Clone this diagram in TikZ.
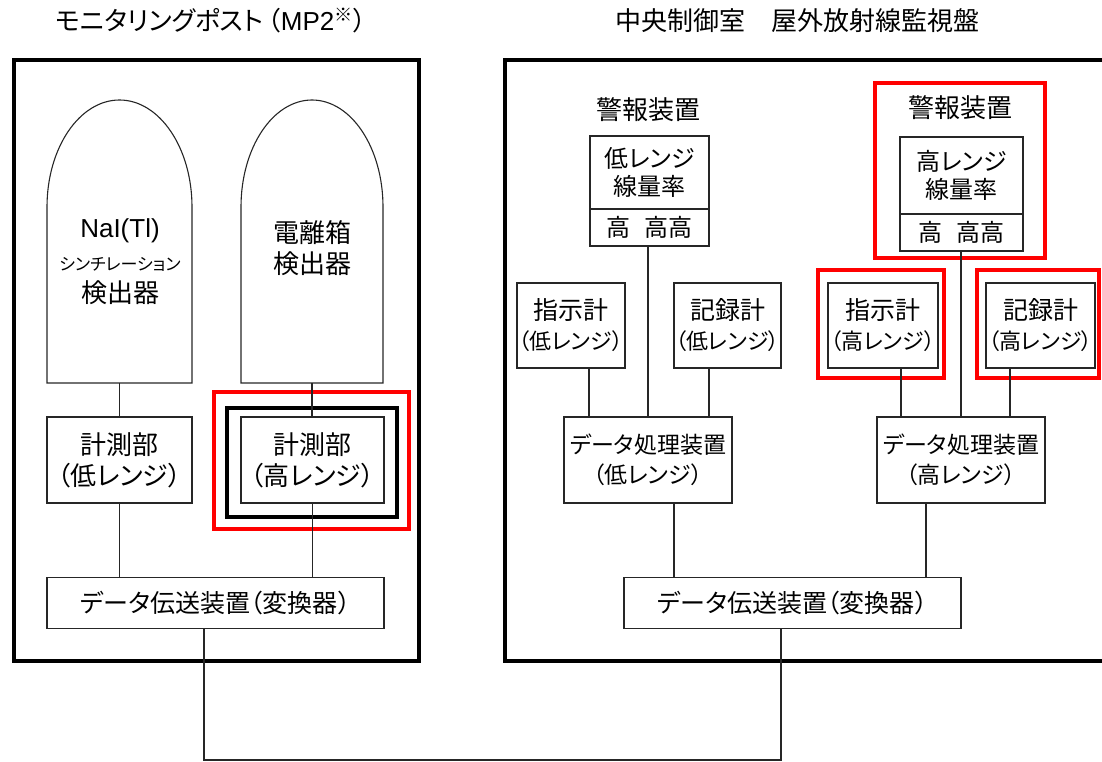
\documentclass[tikz,border=0pt]{standalone}
\usepackage{fontspec}
\setmainfont{Liberation Sans}
\newfontfamily\jp[RawFeature=+palt]{Noto Sans CJK JP}
\newcommand\JPbig{\jp\fontsize{26}{31}\selectfont}
\newcommand\JPbox{\jp\fontsize{25}{30}\selectfont}
\newcommand\JPmid{\jp\fontsize{24}{28}\selectfont}
\newcommand\JPdp{\jp\fontsize{23}{30}\selectfont}
\newcommand\JPsub{\fontsize{22}{29}\selectfont}
\newcommand\JPsmall{\jp\fontsize{17}{20}\selectfont}
\begin{document}
\begin{tikzpicture}[x=1pt,y=-1pt,
  ln/.style={line width=1.1pt,draw=black!85},
  outer/.style={line width=4pt},
  redbox/.style={line width=4pt,draw=red},
  bx/.style={draw=black!85,line width=1.1pt,inner sep=0pt,align=center,font=\JPbox},
  lbl/.style={inner sep=0pt,align=center,font=\JPbig}]
\useasboundingbox (0,0) rectangle (1102,762);
\clip (0,0) rectangle (1102,762);

% titles
\node[lbl] (t1) at (211,21) {モニタリングポスト\,（{\rmfamily MP2}\textsuperscript{※}）};
\node[lbl] (t2) at (797,21) {中央制御室　屋外放射線監視盤};

% outer frames
\draw[outer] (14,60) rectangle (419,661);
\draw[outer] (505,60) rectangle (1120,661);

% ---------- left: monitoring post ----------
\draw[ln] (47,383) -- (47,207) arc[start angle=180,end angle=360,x radius=72.5,y radius=107] -- (192,383) -- cycle;
\draw[ln] (241,383) -- (241,207) arc[start angle=180,end angle=360,x radius=71,y radius=107] -- (383,383) -- cycle;
\node[inner sep=0pt,minimum width=145pt,minimum height=283pt] (det1) at (119.5,241.5) {};
\node[inner sep=0pt,minimum width=142pt,minimum height=283pt] (det2) at (312,241.5) {};
\node[inner sep=0pt,font=\fontsize{26}{30}\selectfont] (det1a) at (120,231) {NaI(Tl)};
\node[inner sep=0pt,font=\JPsmall] (det1b) at (120,264) {シンチレーション};
\node[lbl] (det1c) at (120,293) {検出器};
\node[lbl] (det2a) at (312,248) {電離箱\\検出器};

\node[bx,font=\JPbig,minimum width=145pt,minimum height=86pt] (km1) at (119.5,460) {計測部\\（低レンジ）};
\node[bx,font=\JPbig,minimum width=143pt,minimum height=86pt] (km2) at (312.5,460) {計測部\\（高レンジ）};
\draw[line width=4.5pt] (227,408) rectangle (397,517);
\draw[redbox] (214,392) rectangle (409,529);

\node[bx,minimum width=337pt,minimum height=51pt] (dt1) at (215.5,603) {データ伝送装置（変換器）};

\draw[ln] (det1.south) -- (km1.north);
\draw[ln] (det2.south) -- (det2.south |- km2.north);
\draw[ln] (km1.south) -- (km1.south |- dt1.north);
\draw[ln] (km2.south) -- (km2.south |- dt1.north);

% ---------- right: control room ----------
\node[lbl] (alLt) at (648,110) {警報装置};
\node[bx,minimum width=119pt,minimum height=73pt,font=\JPmid] (alL) at (649.5,172.5) {低レンジ\\線量率};
\node[bx,minimum width=119pt,minimum height=37pt,font=\JPmid] (alLb) at (649.5,227.5) {高\hspace{0.55em}高高};

\node[lbl] (alHt) at (960,108) {警報装置};
\node[bx,minimum width=123pt,minimum height=77pt,font=\JPmid] (alH) at (961.5,175.5) {高レンジ\\線量率};
\node[bx,minimum width=123pt,minimum height=37pt,font=\JPmid] (alHb) at (961.5,232.5) {高\hspace{0.55em}高高};
\draw[redbox] (875,83) rectangle (1045,258);

\node[bx,minimum width=108pt,minimum height=85pt] (shiL) at (571,325.5) {指示計\\{\JPsub（低レンジ）}};
\node[bx,minimum width=107pt,minimum height=85pt] (kiL) at (727.5,325.5) {記録計\\{\JPsub（低レンジ）}};
\node[bx,minimum width=110pt,minimum height=85pt] (shiH) at (883,325.5) {指示計\\{\JPsub（高レンジ）}};
\node[bx,minimum width=109pt,minimum height=85pt] (kiH) at (1040.5,325.5) {記録計\\{\JPsub（高レンジ）}};
\draw[redbox] (818,270) rectangle (944,378);
\draw[redbox] (977,270) rectangle (1099,378);

\node[bx,font=\JPdp,minimum width=168pt,minimum height=86pt] (dpL) at (648,460) {データ処理装置\\（低レンジ）};
\node[bx,font=\JPdp,minimum width=168pt,minimum height=86pt] (dpH) at (961,460) {データ処理装置\\（高レンジ）};

\node[bx,minimum width=337pt,minimum height=51pt] (dt2) at (792.5,603) {データ伝送装置（変換器）};

\coordinate (x1) at (589,0);
\coordinate (x2) at (648,0);
\coordinate (x3) at (709,0);
\coordinate (x4) at (674,0);
\coordinate (x5) at (901,0);
\coordinate (x6) at (961,0);
\coordinate (x7) at (1010,0);
\coordinate (x8) at (926,0);
\coordinate (x9) at (204,0);
\coordinate (x10) at (781,0);

\draw[ln] (x1 |- shiL.south) -- (x1 |- dpL.north);
\draw[ln] (x2 |- alLb.south) -- (x2 |- dpL.north);
\draw[ln] (x3 |- kiL.south) -- (x3 |- dpL.north);
\draw[ln] (x4 |- dpL.south) -- (x4 |- dt2.north);
\draw[ln] (x5 |- shiH.south) -- (x5 |- dpH.north);
\draw[ln] (x6 |- alHb.south) -- (x6 |- dpH.north);
\draw[ln] (x7 |- kiH.south) -- (x7 |- dpH.north);
\draw[ln] (x8 |- dpH.south) -- (x8 |- dt2.north);

% link between the two transfer units
\draw[ln] (x9 |- dt1.south) -- (204,760) -- (781,760) -- (x10 |- dt2.south);
\end{tikzpicture}
\end{document}
